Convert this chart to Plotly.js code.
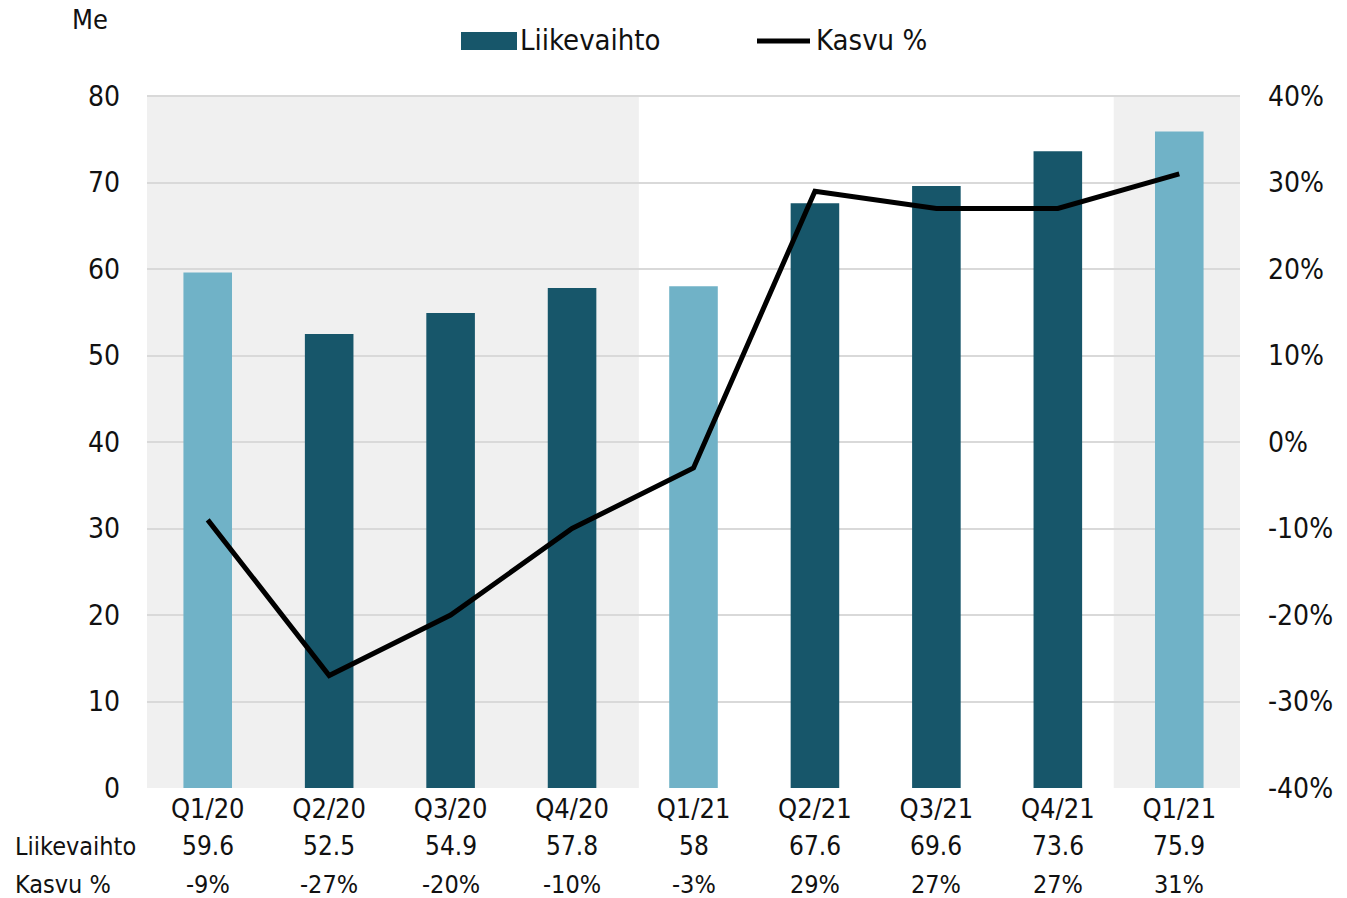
<!DOCTYPE html>
<html><head><meta charset="utf-8">
<script src="https://cdn.plot.ly/plotly-3.0.1.min.js"></script>
<style>body{margin:0;background:#fff}#chart{width:1347px;height:898px}</style>
</head><body><div id="chart"></div>
<script>
const categories = ["Q1/20","Q2/20","Q3/20","Q4/20","Q1/21","Q2/21","Q3/21","Q4/21","Q1/21 "];
const tickLabels = ["Q1/20","Q2/20","Q3/20","Q4/20","Q1/21","Q2/21","Q3/21","Q4/21","Q1/21"];
const liikevaihto = [59.6, 52.5, 54.9, 57.8, 58, 67.6, 69.6, 73.6, 75.9];
const kasvu = [-9, -27, -20, -10, -3, 29, 27, 27, 31];
const highlight = [true, false, false, false, true, false, false, false, true];
const leftTicks = [0, 10, 20, 30, 40, 50, 60, 70, 80];
const rightTicks = [-40, -30, -20, -10, 0, 10, 20, 30, 40];
const rightTickLabels = ["-40%", "-30%", "-20%", "-10%", "0%", "10%", "20%", "30%", "40%"];

const DARK = "#17566A", LIGHT = "#70B2C7";
const FONT = "'Liberation Sans Narrow', 'DejaVu Sans Condensed', 'Liberation Sans', sans-serif";
const idx = categories.map((_, i) => i);

const traces = [
  {type: "bar", x: idx, y: liikevaihto, name: "Liikevaihto",
   marker: {color: highlight.map(h => h ? LIGHT : DARK)}, width: 0.4, showlegend: false, hoverinfo: "none"},
  {type: "scatter", mode: "lines", x: idx, y: kasvu, yaxis: "y2", name: "Kasvu %",
   line: {color: "#000", width: 5}, showlegend: false, hoverinfo: "none"}
];

// plot area: x 147..1240 (1093 px), y 92..788; 4 px headroom so the 80 gridline shows
const PADPX = 4;
const TOP = 96 - PADPX, H = 692 + PADPX;
const px = v => (v - 147) / 1093;
const py = v => (788 - v) / H;
const ROW1 = py(846), ROW2 = py(884);
const HEAD = 80 * PADPX / 692;

const annotations = [
  {text: "Me", xref: "paper", yref: "paper", x: px(90), y: py(19), xanchor: "center", yanchor: "middle",
   showarrow: false, font: {size: 27, color: "#111", family: FONT}},
  {text: "Liikevaihto", xref: "paper", yref: "paper", x: px(13), y: ROW1, xanchor: "left", yanchor: "middle",
   showarrow: false, font: {size: 25, color: "#111", family: FONT}},
  {text: "Kasvu %", xref: "paper", yref: "paper", x: px(13), y: ROW2, xanchor: "left", yanchor: "middle",
   showarrow: false, font: {size: 25, color: "#111", family: FONT}},
  {text: "Liikevaihto", xref: "paper", yref: "paper", x: px(518), y: py(40), xanchor: "left", yanchor: "middle",
   showarrow: false, font: {size: 29, color: "#111", family: FONT}},
  {text: "Kasvu %", xref: "paper", yref: "paper", x: px(814), y: py(40), xanchor: "left", yanchor: "middle",
   showarrow: false, font: {size: 29, color: "#111", family: FONT}}
];
idx.forEach(i => {
  annotations.push({text: String(liikevaihto[i]), x: i, xref: "x", yref: "paper", y: ROW1,
    showarrow: false, yanchor: "middle", font: {size: 26, color: "#111", family: FONT}});
  annotations.push({text: kasvu[i] + "%", x: i, xref: "x", yref: "paper", y: ROW2,
    showarrow: false, yanchor: "middle", font: {size: 25, color: "#111", family: FONT}});
});

const shapes = [
  {type: "rect", xref: "x", yref: "y", x0: -0.5, x1: 3.55, y0: 0, y1: 80, fillcolor: "#F0F0F0", line: {width: 0}, layer: "below"},
  {type: "rect", xref: "x", yref: "y", x0: 7.46, x1: 8.5, y0: 0, y1: 80, fillcolor: "#F0F0F0", line: {width: 0}, layer: "below"},
  {type: "rect", xref: "paper", yref: "paper", x0: px(461), x1: px(517), y0: py(50), y1: py(32),
   fillcolor: DARK, line: {width: 0}},
  {type: "line", xref: "paper", yref: "paper", x0: px(757), x1: px(810), y0: py(41), y1: py(41),
   line: {color: "#000", width: 5}}
];

const layout = {
  width: 1347, height: 898,
  margin: {l: 147, r: 107, t: TOP, b: 110},
  paper_bgcolor: "#fff", plot_bgcolor: "rgba(0,0,0,0)",
  font: {family: FONT, color: "#111", size: 27},
  showlegend: false,
  xaxis: {range: [-0.5, 8.5], tickmode: "array", tickvals: idx, ticktext: tickLabels,
    showgrid: false, zeroline: false, showline: false, ticks: "", tickfont: {size: 27, family: FONT, color: "#111"},
    ticklabelstandoff: 2, fixedrange: true},
  yaxis: {range: [0, 80 + HEAD], tickmode: "array", tickvals: leftTicks, gridcolor: "#D9D9D9", gridwidth: 2, zeroline: false,
    showline: false, ticks: "", tickfont: {size: 28, family: FONT, color: "#111"}, ticklabelstandoff: 26, fixedrange: true},
  yaxis2: {range: [-40, 40 + HEAD], tickmode: "array", tickvals: rightTicks, ticktext: rightTickLabels,
    overlaying: "y", side: "right", showgrid: false, zeroline: false,
    ticks: "", tickfont: {size: 28, family: FONT, color: "#111"}, ticklabelstandoff: 27, fixedrange: true},
  shapes: shapes,
  annotations: annotations
};
Plotly.newPlot("chart", traces, layout, {displayModeBar: false, staticPlot: true});
</script></body></html>
